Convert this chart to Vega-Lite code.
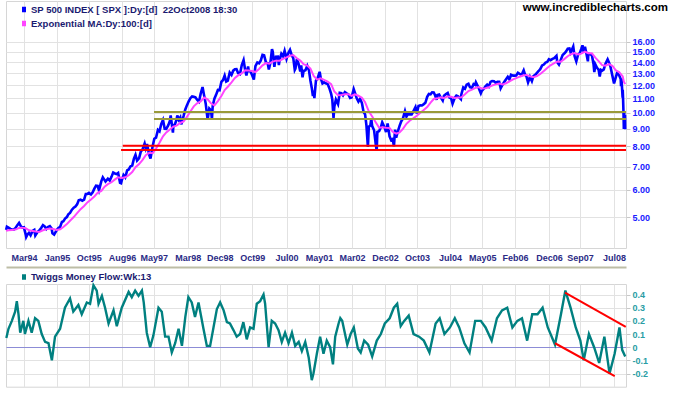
{
  "$schema": "https://vega.github.io/schema/vega-lite/v6.json",
  "padding": {"left": 0, "top": 0, "right": 0, "bottom": 0},
  "background": "white",
  "bounds": "flush",
  "spacing": 36,
  "resolve": {"scale": {"color": "independent"}, "legend": {"color": "independent"}},
  "config": {
    "view": {"stroke": "#d6d6d6", "strokeWidth": 1},
    "axis": {"gridColor": "#e2e2e2", "gridWidth": 1, "domain": false, "labelFont": "Liberation Sans", "labelFontWeight": "bold", "labelFontSize": 9, "labelOverlap": false}
  },
  "datasets": {
    "spx": [
      {"d":"1993-10-08","v":4.60},{"d":"1993-10-15","v":4.70},{"d":"1993-10-29","v":4.67},{"d":"1993-11-15","v":4.63},{"d":"1993-11-26","v":4.62},{"d":"1993-12-15","v":4.61},{"d":"1993-12-31","v":4.66},
      {"d":"1994-01-14","v":4.74},{"d":"1994-01-31","v":4.82},{"d":"1994-02-15","v":4.72},{"d":"1994-02-28","v":4.67},{"d":"1994-03-15","v":4.68},{"d":"1994-03-31","v":4.46},{"d":"1994-04-04","v":4.39},{"d":"1994-04-15","v":4.46},{"d":"1994-04-29","v":4.51},{"d":"1994-05-13","v":4.44},{"d":"1994-05-31","v":4.57},{"d":"1994-06-15","v":4.60},{"d":"1994-06-24","v":4.43},{"d":"1994-07-15","v":4.54},{"d":"1994-07-29","v":4.58},{"d":"1994-08-15","v":4.66},{"d":"1994-08-31","v":4.75},{"d":"1994-09-15","v":4.71},{"d":"1994-09-30","v":4.63},{"d":"1994-10-14","v":4.69},{"d":"1994-10-31","v":4.72},{"d":"1994-11-15","v":4.65},{"d":"1994-11-23","v":4.50},{"d":"1994-12-08","v":4.46},{"d":"1994-12-30","v":4.59},
      {"d":"1995-01-13","v":4.65},{"d":"1995-01-31","v":4.70},{"d":"1995-02-15","v":4.85},{"d":"1995-02-28","v":4.87},{"d":"1995-03-15","v":4.96},{"d":"1995-03-31","v":5.01},{"d":"1995-04-13","v":5.10},{"d":"1995-04-28","v":5.15},{"d":"1995-05-15","v":5.26},{"d":"1995-05-31","v":5.33},{"d":"1995-06-15","v":5.37},{"d":"1995-06-30","v":5.45},{"d":"1995-07-14","v":5.60},{"d":"1995-07-31","v":5.62},{"d":"1995-08-15","v":5.58},{"d":"1995-08-31","v":5.62},{"d":"1995-09-15","v":5.84},{"d":"1995-09-29","v":5.84},{"d":"1995-10-13","v":5.88},{"d":"1995-10-31","v":5.82},{"d":"1995-11-15","v":5.90},{"d":"1995-11-30","v":6.05},{"d":"1995-12-15","v":6.17},{"d":"1995-12-29","v":6.16},
      {"d":"1996-01-10","v":5.98},{"d":"1996-01-31","v":6.36},{"d":"1996-02-13","v":6.52},{"d":"1996-02-29","v":6.40},{"d":"1996-03-08","v":6.34},{"d":"1996-03-29","v":6.46},{"d":"1996-04-15","v":6.38},{"d":"1996-04-30","v":6.54},{"d":"1996-05-15","v":6.73},{"d":"1996-05-31","v":6.69},{"d":"1996-06-14","v":6.66},{"d":"1996-06-28","v":6.71},{"d":"1996-07-15","v":6.29},{"d":"1996-07-24","v":6.27},{"d":"1996-07-31","v":6.40},{"d":"1996-08-15","v":6.62},{"d":"1996-08-30","v":6.52},{"d":"1996-09-16","v":6.83},{"d":"1996-09-30","v":6.87},{"d":"1996-10-15","v":7.01},{"d":"1996-10-31","v":7.05},{"d":"1996-11-15","v":7.38},{"d":"1996-11-29","v":7.57},{"d":"1996-12-13","v":7.29},{"d":"1996-12-31","v":7.41},
      {"d":"1997-01-15","v":7.73},{"d":"1997-01-31","v":7.86},{"d":"1997-02-18","v":8.16},{"d":"1997-02-28","v":7.91},{"d":"1997-03-11","v":8.13},{"d":"1997-03-31","v":7.57},{"d":"1997-04-11","v":7.38},{"d":"1997-04-30","v":8.01},{"d":"1997-05-15","v":8.42},{"d":"1997-05-30","v":8.48},{"d":"1997-06-16","v":8.93},{"d":"1997-06-30","v":8.85},{"d":"1997-07-15","v":9.27},{"d":"1997-07-31","v":9.54},{"d":"1997-08-15","v":9.00},{"d":"1997-08-29","v":8.99},{"d":"1997-09-15","v":9.20},{"d":"1997-09-30","v":9.47},{"d":"1997-10-07","v":9.83},{"d":"1997-10-27","v":8.77},{"d":"1997-10-31","v":9.15},{"d":"1997-11-14","v":9.28},{"d":"1997-11-28","v":9.55},{"d":"1997-12-05","v":9.83},{"d":"1997-12-18","v":9.55},{"d":"1997-12-31","v":9.70},
      {"d":"1998-01-09","v":9.27},{"d":"1998-01-30","v":9.80},{"d":"1998-02-13","v":10.21},{"d":"1998-02-27","v":10.49},{"d":"1998-03-16","v":10.80},{"d":"1998-03-31","v":11.02},{"d":"1998-04-15","v":11.15},{"d":"1998-04-30","v":11.12},{"d":"1998-05-15","v":11.08},{"d":"1998-05-29","v":10.91},{"d":"1998-06-15","v":10.77},{"d":"1998-06-30","v":11.34},{"d":"1998-07-17","v":11.87},{"d":"1998-07-31","v":11.21},{"d":"1998-08-14","v":10.63},{"d":"1998-08-31","v":9.57},{"d":"1998-09-15","v":10.29},{"d":"1998-09-30","v":10.17},{"d":"1998-10-08","v":9.59},{"d":"1998-10-15","v":10.47},{"d":"1998-10-30","v":10.99},{"d":"1998-11-13","v":11.25},{"d":"1998-11-30","v":11.64},{"d":"1998-12-15","v":11.62},{"d":"1998-12-31","v":12.29},
      {"d":"1999-01-15","v":12.44},{"d":"1999-01-29","v":12.80},{"d":"1999-02-12","v":12.31},{"d":"1999-02-26","v":12.38},{"d":"1999-03-15","v":13.07},{"d":"1999-03-31","v":12.86},{"d":"1999-04-15","v":13.23},{"d":"1999-04-30","v":13.35},{"d":"1999-05-14","v":13.37},{"d":"1999-05-28","v":13.02},{"d":"1999-06-14","v":12.94},{"d":"1999-06-30","v":13.73},{"d":"1999-07-16","v":14.19},{"d":"1999-07-30","v":13.29},{"d":"1999-08-10","v":12.81},{"d":"1999-08-25","v":13.60},{"d":"1999-08-31","v":13.20},{"d":"1999-09-15","v":13.18},{"d":"1999-09-30","v":12.83},{"d":"1999-10-15","v":12.47},{"d":"1999-10-29","v":13.63},{"d":"1999-11-15","v":13.97},{"d":"1999-11-30","v":13.89},{"d":"1999-12-15","v":14.13},{"d":"1999-12-31","v":14.69},
      {"d":"2000-01-14","v":14.65},{"d":"2000-01-31","v":13.95},{"d":"2000-02-15","v":13.89},{"d":"2000-02-25","v":13.33},{"d":"2000-03-10","v":13.95},{"d":"2000-03-24","v":15.27},{"d":"2000-03-31","v":14.99},{"d":"2000-04-14","v":13.57},{"d":"2000-04-28","v":14.52},{"d":"2000-05-15","v":14.53},{"d":"2000-05-24","v":13.73},{"d":"2000-05-31","v":14.21},{"d":"2000-06-15","v":14.79},{"d":"2000-06-30","v":14.55},{"d":"2000-07-14","v":15.09},{"d":"2000-07-31","v":14.31},{"d":"2000-08-15","v":14.84},{"d":"2000-08-31","v":15.18},{"d":"2000-09-15","v":14.66},{"d":"2000-09-29","v":14.37},{"d":"2000-10-12","v":13.30},{"d":"2000-10-18","v":13.42},{"d":"2000-10-31","v":14.29},{"d":"2000-11-15","v":13.83},{"d":"2000-11-30","v":13.15},{"d":"2000-12-08","v":13.69},{"d":"2000-12-20","v":12.65},{"d":"2000-12-29","v":13.20},
      {"d":"2001-01-15","v":13.27},{"d":"2001-01-31","v":13.66},{"d":"2001-02-15","v":13.26},{"d":"2001-02-28","v":12.40},{"d":"2001-03-12","v":11.80},{"d":"2001-03-22","v":11.18},{"d":"2001-03-30","v":11.60},{"d":"2001-04-04","v":11.03},{"d":"2001-04-18","v":12.38},{"d":"2001-04-30","v":12.50},{"d":"2001-05-21","v":13.13},{"d":"2001-05-31","v":12.56},{"d":"2001-06-15","v":12.15},{"d":"2001-06-29","v":12.24},{"d":"2001-07-13","v":12.16},{"d":"2001-07-31","v":12.11},{"d":"2001-08-15","v":11.78},{"d":"2001-08-31","v":11.34},{"d":"2001-09-10","v":10.93},{"d":"2001-09-21","v":9.66},{"d":"2001-09-28","v":10.41},{"d":"2001-10-12","v":10.92},{"d":"2001-10-31","v":10.60},{"d":"2001-11-15","v":11.42},{"d":"2001-11-30","v":11.39},{"d":"2001-12-14","v":11.23},{"d":"2001-12-31","v":11.48},
      {"d":"2002-01-15","v":11.39},{"d":"2002-01-31","v":11.30},{"d":"2002-02-15","v":11.04},{"d":"2002-02-28","v":11.07},{"d":"2002-03-19","v":11.70},{"d":"2002-03-28","v":11.47},{"d":"2002-04-15","v":11.02},{"d":"2002-04-30","v":10.77},{"d":"2002-05-15","v":10.97},{"d":"2002-05-31","v":10.67},{"d":"2002-06-14","v":10.07},{"d":"2002-06-28","v":9.90},{"d":"2002-07-10","v":9.20},{"d":"2002-07-23","v":7.98},{"d":"2002-07-31","v":9.12},{"d":"2002-08-14","v":9.20},{"d":"2002-08-22","v":9.63},{"d":"2002-08-30","v":9.16},{"d":"2002-09-16","v":8.91},{"d":"2002-09-30","v":8.15},{"d":"2002-10-09","v":7.77},{"d":"2002-10-15","v":8.81},{"d":"2002-10-31","v":8.86},{"d":"2002-11-15","v":9.09},{"d":"2002-11-27","v":9.39},{"d":"2002-12-16","v":9.11},{"d":"2002-12-31","v":8.80},
      {"d":"2003-01-14","v":9.32},{"d":"2003-01-31","v":8.56},{"d":"2003-02-14","v":8.35},{"d":"2003-02-28","v":8.41},{"d":"2003-03-11","v":8.01},{"d":"2003-03-21","v":8.95},{"d":"2003-03-31","v":8.48},{"d":"2003-04-15","v":8.85},{"d":"2003-04-30","v":9.17},{"d":"2003-05-15","v":9.46},{"d":"2003-05-30","v":9.64},{"d":"2003-06-17","v":10.11},{"d":"2003-06-30","v":9.75},{"d":"2003-07-15","v":9.95},{"d":"2003-07-31","v":9.90},{"d":"2003-08-15","v":9.90},{"d":"2003-08-29","v":10.08},{"d":"2003-09-18","v":10.39},{"d":"2003-09-30","v":9.96},{"d":"2003-10-15","v":10.46},{"d":"2003-10-31","v":10.51},{"d":"2003-11-14","v":10.50},{"d":"2003-11-28","v":10.58},{"d":"2003-12-15","v":10.69},{"d":"2003-12-31","v":11.12},
      {"d":"2004-01-15","v":11.33},{"d":"2004-01-30","v":11.31},{"d":"2004-02-13","v":11.46},{"d":"2004-02-27","v":11.45},{"d":"2004-03-10","v":11.24},{"d":"2004-03-24","v":10.91},{"d":"2004-03-31","v":11.26},{"d":"2004-04-15","v":11.29},{"d":"2004-04-30","v":11.07},{"d":"2004-05-17","v":10.85},{"d":"2004-05-28","v":11.21},{"d":"2004-06-15","v":11.33},{"d":"2004-06-30","v":11.41},{"d":"2004-07-15","v":11.07},{"d":"2004-07-30","v":11.02},{"d":"2004-08-12","v":10.63},{"d":"2004-08-31","v":11.04},{"d":"2004-09-15","v":11.21},{"d":"2004-09-30","v":11.15},{"d":"2004-10-25","v":10.95},{"d":"2004-10-29","v":11.30},{"d":"2004-11-15","v":11.84},{"d":"2004-11-30","v":11.74},{"d":"2004-12-15","v":12.05},{"d":"2004-12-31","v":12.12},
      {"d":"2005-01-14","v":11.85},{"d":"2005-01-31","v":11.81},{"d":"2005-02-15","v":12.10},{"d":"2005-02-28","v":12.04},{"d":"2005-03-07","v":12.25},{"d":"2005-03-31","v":11.81},{"d":"2005-04-20","v":11.38},{"d":"2005-04-29","v":11.57},{"d":"2005-05-16","v":11.73},{"d":"2005-05-31","v":11.92},{"d":"2005-06-15","v":12.06},{"d":"2005-06-30","v":11.91},{"d":"2005-07-15","v":12.28},{"d":"2005-07-29","v":12.34},{"d":"2005-08-15","v":12.33},{"d":"2005-08-31","v":12.20},{"d":"2005-09-15","v":12.28},{"d":"2005-09-30","v":12.29},{"d":"2005-10-13","v":11.77},{"d":"2005-10-31","v":12.07},{"d":"2005-11-15","v":12.29},{"d":"2005-11-30","v":12.50},{"d":"2005-12-15","v":12.70},{"d":"2005-12-30","v":12.48},
      {"d":"2006-01-13","v":12.87},{"d":"2006-01-31","v":12.80},{"d":"2006-02-15","v":12.80},{"d":"2006-02-28","v":12.81},{"d":"2006-03-15","v":13.04},{"d":"2006-03-31","v":12.95},{"d":"2006-04-17","v":12.86},{"d":"2006-04-28","v":13.11},{"d":"2006-05-05","v":13.26},{"d":"2006-05-15","v":12.94},{"d":"2006-05-31","v":12.70},{"d":"2006-06-13","v":12.24},{"d":"2006-06-30","v":12.70},{"d":"2006-07-17","v":12.34},{"d":"2006-07-31","v":12.77},{"d":"2006-08-15","v":12.86},{"d":"2006-08-31","v":13.04},{"d":"2006-09-15","v":13.20},{"d":"2006-09-29","v":13.36},{"d":"2006-10-16","v":13.69},{"d":"2006-10-31","v":13.78},{"d":"2006-11-15","v":13.96},{"d":"2006-11-30","v":14.01},{"d":"2006-12-15","v":14.27},{"d":"2006-12-29","v":14.18},
      {"d":"2007-01-16","v":14.31},{"d":"2007-01-31","v":14.38},{"d":"2007-02-20","v":14.60},{"d":"2007-02-27","v":13.99},{"d":"2007-03-14","v":13.78},{"d":"2007-03-30","v":14.21},{"d":"2007-04-16","v":14.68},{"d":"2007-04-30","v":14.82},{"d":"2007-05-15","v":15.01},{"d":"2007-05-31","v":15.31},{"d":"2007-06-15","v":15.33},{"d":"2007-06-26","v":14.92},{"d":"2007-07-19","v":15.53},{"d":"2007-07-31","v":14.55},{"d":"2007-08-15","v":14.07},{"d":"2007-08-31","v":14.74},{"d":"2007-09-14","v":14.84},{"d":"2007-09-28","v":15.27},{"d":"2007-10-09","v":15.65},{"d":"2007-10-19","v":15.00},{"d":"2007-10-31","v":15.49},{"d":"2007-11-13","v":14.81},{"d":"2007-11-26","v":14.07},{"d":"2007-11-30","v":14.81},{"d":"2007-12-11","v":14.77},{"d":"2007-12-31","v":14.68},
      {"d":"2008-01-15","v":13.80},{"d":"2008-01-22","v":13.10},{"d":"2008-01-31","v":13.79},{"d":"2008-02-15","v":13.49},{"d":"2008-02-29","v":13.31},{"d":"2008-03-10","v":12.73},{"d":"2008-03-20","v":13.30},{"d":"2008-03-31","v":13.23},{"d":"2008-04-15","v":13.34},{"d":"2008-04-30","v":13.86},{"d":"2008-05-19","v":14.27},{"d":"2008-05-30","v":14.00},{"d":"2008-06-13","v":13.60},{"d":"2008-06-30","v":12.80},{"d":"2008-07-15","v":12.15},{"d":"2008-07-31","v":12.67},{"d":"2008-08-11","v":13.05},{"d":"2008-08-29","v":12.83},{"d":"2008-09-12","v":12.52},{"d":"2008-09-15","v":11.93},{"d":"2008-09-19","v":12.55},{"d":"2008-09-29","v":11.06},{"d":"2008-09-30","v":11.66},{"d":"2008-10-03","v":10.99},{"d":"2008-10-07","v":9.96},{"d":"2008-10-10","v":8.99},{"d":"2008-10-13","v":10.03},{"d":"2008-10-16","v":9.46},{"d":"2008-10-20","v":9.85},{"d":"2008-10-22","v":8.97}
    ],
    "ema": [
      {"d":"1993-10-08","v":4.57},{"d":"1993-10-29","v":4.59},{"d":"1993-11-30","v":4.60},{"d":"1993-12-31","v":4.61},
      {"d":"1994-01-31","v":4.66},{"d":"1994-02-28","v":4.67},{"d":"1994-03-31","v":4.65},{"d":"1994-04-29","v":4.59},{"d":"1994-05-31","v":4.57},{"d":"1994-06-30","v":4.55},{"d":"1994-07-29","v":4.54},{"d":"1994-08-31","v":4.59},{"d":"1994-09-30","v":4.62},{"d":"1994-10-31","v":4.64},{"d":"1994-11-30","v":4.63},{"d":"1994-12-30","v":4.60},
      {"d":"1995-01-31","v":4.62},{"d":"1995-02-28","v":4.69},{"d":"1995-03-31","v":4.78},{"d":"1995-04-28","v":4.89},{"d":"1995-05-31","v":5.01},{"d":"1995-06-30","v":5.14},{"d":"1995-07-31","v":5.28},{"d":"1995-08-31","v":5.39},{"d":"1995-09-29","v":5.52},{"d":"1995-10-31","v":5.63},{"d":"1995-11-30","v":5.74},{"d":"1995-12-29","v":5.88},
      {"d":"1996-01-31","v":5.96},{"d":"1996-02-29","v":6.13},{"d":"1996-03-29","v":6.23},{"d":"1996-04-30","v":6.31},{"d":"1996-05-31","v":6.43},{"d":"1996-06-28","v":6.52},{"d":"1996-07-31","v":6.49},{"d":"1996-08-30","v":6.52},{"d":"1996-09-30","v":6.61},{"d":"1996-10-31","v":6.75},{"d":"1996-11-29","v":6.97},{"d":"1996-12-31","v":7.12},
      {"d":"1997-01-31","v":7.32},{"d":"1997-02-28","v":7.55},{"d":"1997-03-31","v":7.67},{"d":"1997-04-30","v":7.65},{"d":"1997-05-30","v":7.89},{"d":"1997-06-30","v":8.20},{"d":"1997-07-31","v":8.56},{"d":"1997-08-29","v":8.78},{"d":"1997-09-30","v":8.96},{"d":"1997-10-31","v":9.13},{"d":"1997-11-28","v":9.19},{"d":"1997-12-31","v":9.35},
      {"d":"1998-01-30","v":9.44},{"d":"1998-02-27","v":9.72},{"d":"1998-03-31","v":10.09},{"d":"1998-04-30","v":10.44},{"d":"1998-05-29","v":10.65},{"d":"1998-06-30","v":10.79},{"d":"1998-07-31","v":11.07},{"d":"1998-08-31","v":10.94},{"d":"1998-09-30","v":10.65},{"d":"1998-10-30","v":10.50},{"d":"1998-11-30","v":10.81},{"d":"1998-12-31","v":11.18},
      {"d":"1999-01-29","v":11.63},{"d":"1999-02-26","v":11.89},{"d":"1999-03-31","v":12.24},{"d":"1999-04-30","v":12.60},{"d":"1999-05-28","v":12.82},{"d":"1999-06-30","v":12.99},{"d":"1999-07-30","v":13.27},{"d":"1999-08-31","v":13.25},{"d":"1999-09-30","v":13.20},{"d":"1999-10-29","v":13.11},{"d":"1999-11-30","v":13.38},{"d":"1999-12-31","v":13.70},
      {"d":"2000-01-31","v":13.91},{"d":"2000-02-29","v":13.86},{"d":"2000-03-31","v":14.05},{"d":"2000-04-28","v":14.14},{"d":"2000-05-31","v":14.14},{"d":"2000-06-30","v":14.30},{"d":"2000-07-31","v":14.44},{"d":"2000-08-31","v":14.60},{"d":"2000-09-29","v":14.67},{"d":"2000-10-31","v":14.37},{"d":"2000-11-30","v":14.14},{"d":"2000-12-29","v":13.82},
      {"d":"2001-01-31","v":13.68},{"d":"2001-02-28","v":13.41},{"d":"2001-03-30","v":12.76},{"d":"2001-04-30","v":12.47},{"d":"2001-05-31","v":12.58},{"d":"2001-06-29","v":12.45},{"d":"2001-07-31","v":12.31},{"d":"2001-08-31","v":12.10},{"d":"2001-09-28","v":11.52},{"d":"2001-10-31","v":11.24},{"d":"2001-11-30","v":11.26},{"d":"2001-12-31","v":11.31},
      {"d":"2002-01-31","v":11.32},{"d":"2002-02-28","v":11.19},{"d":"2002-03-28","v":11.31},{"d":"2002-04-30","v":11.20},{"d":"2002-05-31","v":11.06},{"d":"2002-06-28","v":10.73},{"d":"2002-07-31","v":10.10},{"d":"2002-08-30","v":9.76},{"d":"2002-09-30","v":9.40},{"d":"2002-10-31","v":9.06},{"d":"2002-11-29","v":9.09},{"d":"2002-12-31","v":9.06},
      {"d":"2003-01-31","v":9.04},{"d":"2003-02-28","v":8.82},{"d":"2003-03-31","v":8.71},{"d":"2003-04-30","v":8.78},{"d":"2003-05-30","v":8.99},{"d":"2003-06-30","v":9.30},{"d":"2003-07-31","v":9.51},{"d":"2003-08-29","v":9.64},{"d":"2003-09-30","v":9.81},{"d":"2003-10-31","v":10.01},{"d":"2003-11-28","v":10.18},{"d":"2003-12-31","v":10.39},
      {"d":"2004-01-30","v":10.70},{"d":"2004-02-27","v":10.96},{"d":"2004-03-31","v":11.01},{"d":"2004-04-30","v":11.08},{"d":"2004-05-28","v":11.04},{"d":"2004-06-30","v":11.15},{"d":"2004-07-30","v":11.12},{"d":"2004-08-31","v":11.03},{"d":"2004-09-30","v":11.07},{"d":"2004-10-29","v":11.08},{"d":"2004-11-30","v":11.31},{"d":"2004-12-31","v":11.56},
      {"d":"2005-01-31","v":11.66},{"d":"2005-02-28","v":11.78},{"d":"2005-03-31","v":11.86},{"d":"2005-04-29","v":11.75},{"d":"2005-05-31","v":11.77},{"d":"2005-06-30","v":11.85},{"d":"2005-07-29","v":11.99},{"d":"2005-08-31","v":12.08},{"d":"2005-09-30","v":12.14},{"d":"2005-10-31","v":12.08},{"d":"2005-11-30","v":12.17},{"d":"2005-12-30","v":12.32},
      {"d":"2006-01-31","v":12.48},{"d":"2006-02-28","v":12.59},{"d":"2006-03-31","v":12.71},{"d":"2006-04-28","v":12.81},{"d":"2006-05-31","v":12.86},{"d":"2006-06-30","v":12.74},{"d":"2006-07-31","v":12.67},{"d":"2006-08-31","v":12.77},{"d":"2006-09-29","v":12.94},{"d":"2006-10-31","v":13.20},{"d":"2006-11-30","v":13.46},{"d":"2006-12-29","v":13.71},
      {"d":"2007-01-31","v":13.91},{"d":"2007-02-28","v":14.06},{"d":"2007-03-30","v":14.04},{"d":"2007-04-30","v":14.28},{"d":"2007-05-31","v":14.56},{"d":"2007-06-29","v":14.75},{"d":"2007-07-31","v":14.87},{"d":"2007-08-31","v":14.74},{"d":"2007-09-28","v":14.81},{"d":"2007-10-31","v":15.00},{"d":"2007-11-30","v":14.86},{"d":"2007-12-31","v":14.84},
      {"d":"2008-01-31","v":14.42},{"d":"2008-02-29","v":14.10},{"d":"2008-03-31","v":13.72},{"d":"2008-04-30","v":13.68},{"d":"2008-05-30","v":13.81},{"d":"2008-06-30","v":13.67},{"d":"2008-07-31","v":13.25},{"d":"2008-08-29","v":13.11},{"d":"2008-09-30","v":12.73},{"d":"2008-10-10","v":12.30},{"d":"2008-10-22","v":12.10}
    ],
    "olive": [
      {"d":"1997-05-12","e":"2008-10-29","v":10.05},
      {"d":"1997-05-12","e":"2008-10-29","v":9.60}
    ],
    "red": [
      {"d":"1996-08-08","e":"2008-10-29","v":8.04},
      {"d":"1996-07-24","e":"2008-10-29","v":7.81}
    ],
    "tmf": [
      {"d":"1993-10-10","v":0.07},{"d":"1993-10-29","v":0.14},{"d":"1993-11-28","v":0.20},{"d":"1993-12-27","v":0.27},{"d":"1994-01-11","v":0.35},{"d":"1994-01-26","v":0.25},{"d":"1994-02-10","v":0.11},{"d":"1994-03-10","v":0.20},{"d":"1994-03-24","v":0.10},{"d":"1994-04-24","v":0.20},{"d":"1994-05-23","v":0.11},{"d":"1994-06-22","v":0.22},{"d":"1994-07-21","v":0.20},{"d":"1994-08-20","v":0.10},{"d":"1994-09-19","v":0.04},{"d":"1994-10-19","v":0.03},{"d":"1994-11-18","v":-0.10},{"d":"1994-12-16","v":0.08},
      {"d":"1995-01-30","v":0.14},{"d":"1995-03-14","v":0.30},{"d":"1995-04-28","v":0.37},{"d":"1995-05-27","v":0.27},{"d":"1995-07-11","v":0.32},{"d":"1995-08-10","v":0.25},{"d":"1995-09-24","v":0.34},{"d":"1995-10-23","v":0.33},{"d":"1995-11-22","v":0.47},{"d":"1995-12-21","v":0.43},
      {"d":"1996-01-06","v":0.33},{"d":"1996-02-05","v":0.39},{"d":"1996-03-04","v":0.30},{"d":"1996-04-04","v":0.18},{"d":"1996-05-18","v":0.28},{"d":"1996-06-16","v":0.16},{"d":"1996-07-30","v":0.30},{"d":"1996-09-29","v":0.42},{"d":"1996-10-27","v":0.38},{"d":"1996-11-26","v":0.43},{"d":"1996-12-26","v":0.39},
      {"d":"1997-01-25","v":0.43},{"d":"1997-02-10","v":0.34},{"d":"1997-03-09","v":0.11},{"d":"1997-04-08","v":0.00},{"d":"1997-05-07","v":0.09},{"d":"1997-06-21","v":0.30},{"d":"1997-07-20","v":0.27},{"d":"1997-08-19","v":0.08},{"d":"1997-09-18","v":0.08},{"d":"1997-10-17","v":-0.04},{"d":"1997-11-16","v":0.03},{"d":"1997-12-16","v":0.14},
      {"d":"1998-01-15","v":0.01},{"d":"1998-02-14","v":0.23},{"d":"1998-03-13","v":0.38},{"d":"1998-04-12","v":0.34},{"d":"1998-05-11","v":0.23},{"d":"1998-06-11","v":0.34},{"d":"1998-07-25","v":0.14},{"d":"1998-08-24","v":0.01},{"d":"1998-09-22","v":0.01},{"d":"1998-10-22","v":0.15},{"d":"1998-11-21","v":0.29},{"d":"1998-12-20","v":0.34},
      {"d":"1999-01-20","v":0.28},{"d":"1999-02-18","v":0.19},{"d":"1999-03-17","v":0.18},{"d":"1999-04-17","v":0.13},{"d":"1999-05-16","v":0.08},{"d":"1999-06-15","v":0.10},{"d":"1999-07-14","v":0.19},{"d":"1999-08-13","v":0.06},{"d":"1999-09-12","v":0.15},{"d":"1999-10-12","v":0.14},{"d":"1999-11-10","v":0.33},{"d":"1999-12-10","v":0.35},
      {"d":"2000-01-09","v":0.40},{"d":"2000-01-23","v":0.33},{"d":"2000-02-23","v":0.00},{"d":"2000-03-22","v":0.20},{"d":"2000-04-21","v":0.18},{"d":"2000-05-21","v":0.13},{"d":"2000-06-19","v":0.04},{"d":"2000-07-18","v":0.11},{"d":"2000-08-18","v":0.03},{"d":"2000-09-17","v":0.11},{"d":"2000-10-16","v":0.01},{"d":"2000-11-16","v":0.04},{"d":"2000-12-14","v":-0.03},
      {"d":"2001-01-13","v":0.04},{"d":"2001-02-13","v":-0.08},{"d":"2001-03-12","v":-0.25},{"d":"2001-03-27","v":-0.20},{"d":"2001-04-26","v":-0.05},{"d":"2001-05-25","v":0.08},{"d":"2001-06-24","v":-0.05},{"d":"2001-07-23","v":0.05},{"d":"2001-08-22","v":0.00},{"d":"2001-09-16","v":-0.13},{"d":"2001-10-06","v":0.08},{"d":"2001-11-05","v":0.18},{"d":"2001-11-20","v":0.22},{"d":"2001-12-07","v":0.20},
      {"d":"2002-01-21","v":0.02},{"d":"2002-02-20","v":0.10},{"d":"2002-03-20","v":0.15},{"d":"2002-04-25","v":-0.01},{"d":"2002-05-20","v":-0.04},{"d":"2002-06-20","v":0.05},{"d":"2002-07-25","v":0.02},{"d":"2002-08-30","v":-0.07},{"d":"2002-10-10","v":0.05},{"d":"2002-11-15","v":0.10},{"d":"2002-12-20","v":0.18},
      {"d":"2003-02-01","v":0.22},{"d":"2003-03-10","v":0.30},{"d":"2003-04-09","v":0.33},{"d":"2003-05-10","v":0.16},{"d":"2003-06-10","v":0.20},{"d":"2003-07-20","v":0.24},{"d":"2003-09-01","v":0.10},{"d":"2003-10-20","v":0.08},{"d":"2003-12-01","v":0.05},
      {"d":"2004-01-20","v":-0.04},{"d":"2004-03-15","v":0.18},{"d":"2004-04-20","v":0.22},{"d":"2004-06-01","v":0.10},{"d":"2004-07-20","v":0.15},{"d":"2004-09-01","v":0.22},{"d":"2004-10-10","v":0.15},{"d":"2004-11-25","v":0.03},
      {"d":"2005-01-10","v":-0.04},{"d":"2005-03-01","v":0.20},{"d":"2005-04-20","v":0.20},{"d":"2005-06-01","v":0.15},{"d":"2005-07-25","v":0.05},{"d":"2005-09-10","v":0.22},{"d":"2005-10-25","v":0.28},{"d":"2005-12-10","v":0.30},
      {"d":"2006-01-25","v":0.15},{"d":"2006-03-10","v":0.20},{"d":"2006-04-20","v":0.22},{"d":"2006-06-05","v":0.05},{"d":"2006-07-20","v":0.25},{"d":"2006-09-05","v":0.25},{"d":"2006-10-20","v":0.30},{"d":"2006-12-05","v":0.15},
      {"d":"2007-02-07","v":0.02},{"d":"2007-04-01","v":0.25},{"d":"2007-05-10","v":0.43},{"d":"2007-06-25","v":0.30},{"d":"2007-08-10","v":0.15},{"d":"2007-09-20","v":0.05},{"d":"2007-10-20","v":-0.10},{"d":"2007-12-05","v":0.10},
      {"d":"2008-01-20","v":0.00},{"d":"2008-03-05","v":-0.12},{"d":"2008-04-20","v":0.08},{"d":"2008-06-05","v":-0.20},{"d":"2008-07-20","v":-0.05},{"d":"2008-09-01","v":0.15},{"d":"2008-09-25","v":-0.02},{"d":"2008-10-22","v":-0.07}
    ],
    "tmftrend": [
      {"d":"2007-05-07","v":0.415,"e":"2008-10-27","v2":0.155},
      {"d":"2007-02-07","v":0.03,"e":"2008-07-21","v2":-0.22}
    ]
  },
  "vconcat": [
    {
      "width": 620,
      "height": 247,
      "title": {"text": "www.incrediblecharts.com", "anchor": "end", "orient": "top", "offset": -12, "baseline": "top", "dx": 42, "font": "Liberation Sans", "fontSize": 11.5, "fontWeight": "bold", "color": "#000000", "frame": "group"},
      "encoding": {
        "x": {"field": "d", "type": "temporal",
          "scale": {"type": "utc", "domain": [{"year":1993,"month":10,"date":7,"utc":true},{"year":2008,"month":10,"date":29,"utc":true}]},
          "axis": {"title": null, "orient": "bottom", "format": "%b%y", "labelColor": "#2a2a85", "tickSize": 0, "labelPadding": 5, "grid": true, "labelFlush": false, "labelOverlap": false,
            "values": [
              {"year":1994,"month":3,"date":15,"utc":true},{"year":1995,"month":1,"date":2,"utc":true},{"year":1995,"month":10,"date":12,"utc":true},{"year":1996,"month":8,"date":1,"utc":true},{"year":1997,"month":5,"date":10,"utc":true},{"year":1998,"month":3,"date":7,"utc":true},{"year":1998,"month":12,"date":17,"utc":true},{"year":1999,"month":10,"date":1,"utc":true},{"year":2000,"month":7,"date":31,"utc":true},{"year":2001,"month":5,"date":15,"utc":true},{"year":2002,"month":3,"date":3,"utc":true},{"year":2002,"month":12,"date":21,"utc":true},{"year":2003,"month":10,"date":1,"utc":true},{"year":2004,"month":7,"date":20,"utc":true},{"year":2005,"month":5,"date":2,"utc":true},{"year":2006,"month":2,"date":17,"utc":true},{"year":2006,"month":12,"date":15,"utc":true},{"year":2007,"month":9,"date":17,"utc":true},{"year":2008,"month":7,"date":14,"utc":true}
            ]}},
        "y": {"field": "v", "type": "quantitative",
          "scale": {"type": "log", "domain": [4.08, 21.0], "nice": false, "zero": false},
          "axis": {"title": null, "orient": "right", "values": [5,6,7,8,9,10,11,12,13,14,15,16], "format": ".2f", "labelColor": "#1a1aff", "tickSize": 4, "tickColor": "#c8c8c8", "labelPadding": 2, "grid": true, "labelOverlap": false}}
      },
      "layer": [
        {
          "data": {"name": "spx"},
          "mark": {"type": "line", "strokeWidth": 2.6},
          "encoding": {
            "color": {"datum": "SP 500 INDEX [ SPX ]:Dy:[d] \u00a022Oct2008 18:30", "type": "nominal",
              "scale": {"domain": ["SP 500 INDEX [ SPX ]:Dy:[d] \u00a022Oct2008 18:30", "Exponential MA:Dy:100:[d]"], "range": ["#0000ff", "#ff44ff"]},
              "legend": {"orient": "none", "legendX": 12, "legendY": 2.5, "title": null, "symbolType": "M-0.2,-0.55V0.55M-0.067,-0.55V0.55M0.067,-0.55V0.55M0.2,-0.55V0.55", "symbolSize": 100, "symbolStrokeWidth": 2, "labelOffset": 1, "labelFont": "Liberation Sans", "labelFontSize": 9.5, "labelFontWeight": "bold", "labelColor": "#1a1a70", "labelLimit": 400, "rowPadding": 0, "padding": 0}}
          }
        },
        {
          "data": {"name": "ema"},
          "mark": {"type": "line", "strokeWidth": 2},
          "encoding": {
            "color": {"datum": "Exponential MA:Dy:100:[d]", "type": "nominal"}
          }
        },
        {
          "data": {"name": "olive"},
          "mark": {"type": "rule", "color": "#9a9a3a", "strokeWidth": 2},
          "encoding": {"x2": {"field": "e"}}
        },
        {
          "data": {"name": "red"},
          "mark": {"type": "rule", "color": "#ff0000", "strokeWidth": 2},
          "encoding": {"x2": {"field": "e"}}
        }
      ]
    },
    {
      "width": 620,
      "height": 102.7,
      "resolve": {"axis": {"x": "independent"}},
      "encoding": {
        "x": {"field": "d", "type": "temporal",
          "scale": {"type": "utc", "domain": [{"year":1993,"month":10,"date":7,"utc":true},{"year":2008,"month":10,"date":29,"utc":true}]},
          "axis": {"title": null, "orient": "bottom", "labels": false, "ticks": false, "grid": true,
            "values": [
              {"year":1994,"month":3,"date":15,"utc":true},{"year":1995,"month":1,"date":2,"utc":true},{"year":1995,"month":10,"date":12,"utc":true},{"year":1996,"month":8,"date":1,"utc":true},{"year":1997,"month":5,"date":10,"utc":true},{"year":1998,"month":3,"date":7,"utc":true},{"year":1998,"month":12,"date":17,"utc":true},{"year":1999,"month":10,"date":1,"utc":true},{"year":2000,"month":7,"date":31,"utc":true},{"year":2001,"month":5,"date":15,"utc":true},{"year":2002,"month":3,"date":3,"utc":true},{"year":2002,"month":12,"date":21,"utc":true},{"year":2003,"month":10,"date":1,"utc":true},{"year":2004,"month":7,"date":20,"utc":true},{"year":2005,"month":5,"date":2,"utc":true},{"year":2006,"month":2,"date":17,"utc":true},{"year":2006,"month":12,"date":15,"utc":true},{"year":2007,"month":9,"date":17,"utc":true},{"year":2008,"month":7,"date":14,"utc":true}
            ]}},
        "y": {"field": "v", "type": "quantitative",
          "scale": {"domain": [-0.3, 0.48], "nice": false, "zero": false},
          "axis": {"title": null, "orient": "right", "values": [-0.2,-0.1,0,0.1,0.2,0.3,0.4], "format": ".1~f", "labelColor": "#2a9da5", "tickSize": 4, "tickColor": "#c8c8c8", "labelPadding": 2, "grid": true, "labelOverlap": false,
            "gridColor": {"condition": {"test": "datum.value === 0", "value": "#8c8cd6"}, "value": "#e2e2e2"},
            "labelExpr": "replace(datum.label, '\u2212', '-')"}}
      },
      "layer": [
        {
          "data": {"name": "tmf"},
          "mark": {"type": "line", "strokeWidth": 2.4},
          "encoding": {
            "color": {"datum": "Twiggs Money Flow:Wk:13", "type": "nominal",
              "scale": {"domain": ["Twiggs Money Flow:Wk:13"], "range": ["#008080"]},
              "legend": {"orient": "none", "legendX": 12, "legendY": -13, "title": null, "symbolType": "M-0.2,-0.55V0.55M-0.067,-0.55V0.55M0.067,-0.55V0.55M0.2,-0.55V0.55", "symbolSize": 100, "symbolStrokeWidth": 2, "labelOffset": 1, "labelFont": "Liberation Sans", "labelFontSize": 9.5, "labelFontWeight": "bold", "labelColor": "#1a1a70", "labelLimit": 400, "padding": 0}}
          }
        },
        {
          "data": {"name": "tmftrend"},
          "mark": {"type": "rule", "color": "#ff0000", "strokeWidth": 2},
          "encoding": {
            "x": {"field": "d", "type": "temporal",
              "axis": {"title": null, "orient": "top", "labels": false, "ticks": false, "grid": false, "domain": true, "domainColor": "#bdbda6", "domainWidth": 2, "offset": 17}},
            "x2": {"field": "e"},
            "y2": {"field": "v2"}
          }
        }
      ]
    }
  ]
}
